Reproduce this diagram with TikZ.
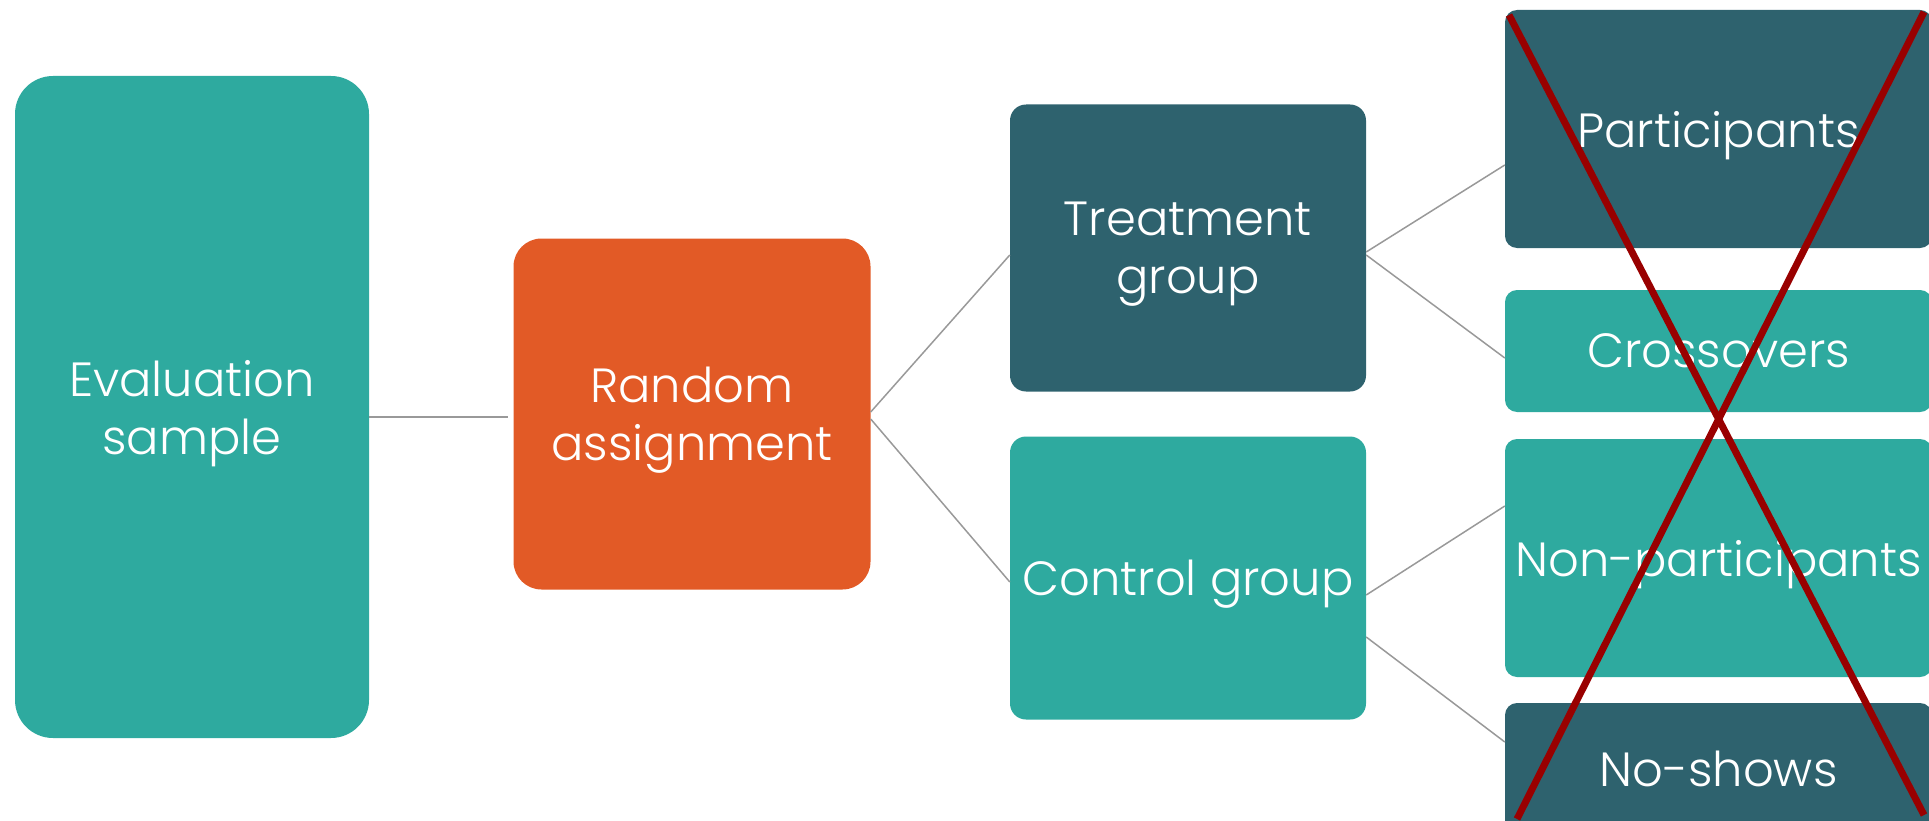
\documentclass[tikz,border=0pt]{standalone}
\usepackage{fontspec}
\setmainfont{Poppins Light}
\usetikzlibrary{positioning}

\definecolor{tealbox}{HTML}{2EAA9F}
\definecolor{darkbox}{HTML}{2E626E}
\definecolor{orangebox}{HTML}{E25A26}
\definecolor{linkgray}{HTML}{999999}
\definecolor{crossred}{HTML}{990000}

\begin{document}
\begin{tikzpicture}[
    x=1pt, y=-1pt,
    box/.style={rounded corners=12pt, text=white, align=center, inner sep=0pt, text depth=0pt, font=\fontsize{48}{58}\selectfont},
    link/.style={draw=linkgray, line width=1.5pt},
    cross/.style={draw=crossred, line width=7pt}
]
\useasboundingbox (0,0) rectangle (1929,821);

\node[box, fill=tealbox, rounded corners=38pt, minimum width=354pt, minimum height=662pt] (sample) at (192,407) {Evaluation\\sample};
\node[box, fill=orangebox, rounded corners=28pt, minimum width=357pt, minimum height=351pt] (assign) at (692,414) {Random\\assignment};

\node[box, fill=darkbox, rounded corners=16pt, minimum width=356pt, minimum height=287pt] (treat) at (1188,248) {Treatment\\group};
\node[box, fill=tealbox, rounded corners=16pt, minimum width=356pt, minimum height=283pt] (control) at (1188,578) {Control group};

\node[box, fill=darkbox, minimum width=427pt, minimum height=238pt] (particip) at (1718.5,129) {Participants};
\node[box, fill=tealbox, minimum width=427pt, minimum height=122pt] (crossover) at (1718.5,351) {Crossovers};
\node[box, fill=tealbox, minimum width=427pt, minimum height=238pt] (nonpart) at (1718.5,558) {Non-participants};
\node[box, fill=darkbox, minimum width=427pt, minimum height=132pt] (noshow) at (1718.5,769) {No-shows};

\draw[link] ([yshift=-10pt]sample.east) -- ([xshift=-5pt, yshift=-3pt]assign.west);
\draw[link] ([yshift=2pt]assign.east) -- ([yshift=-7pt]treat.west);
\draw[link] ([yshift=-5pt]assign.east) -- ([yshift=-4pt]control.west);
\draw[link] ([yshift=-4pt]treat.east) -- ([yshift=-36pt]particip.west);
\draw[link] ([yshift=-7pt]treat.east) -- ([yshift=-7pt]crossover.west);
\draw[link] ([yshift=-17pt]control.east) -- ([yshift=52pt]nonpart.west);
\draw[link] ([yshift=-59pt]control.east) -- ([yshift=27pt]noshow.west);

% crossed out
\coordinate (xtl) at (1509,15);
\coordinate (xtr) at (1924,12);
\coordinate (xbl) at (1517,819);
\coordinate (xbr) at (1924,815);
\draw[cross] (xtl) -- (xbr);
\draw[cross] (xtr) -- (xbl);
\end{tikzpicture}
\end{document}
